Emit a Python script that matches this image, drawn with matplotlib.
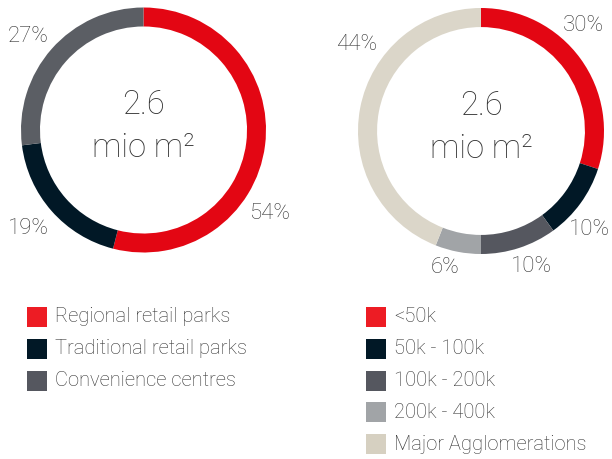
import matplotlib
matplotlib.use('Agg')
from matplotlib import pyplot as plt
from matplotlib.patches import Rectangle

# Data
left_labels = ['Regional retail parks', 'Traditional retail parks', 'Convenience centres']
left_values = [54, 19, 27]
right_labels = ['<50k', '50k - 100k', '100k - 200k', '200k - 400k', 'Major Agglomerations']
right_values = [30, 10, 10, 6, 44]
center_text = ['2.6', 'mio m\u00b2']

left_colours = ['#E30613', '#011826', '#5B5E64']
right_colours = ['#E30613', '#011826', '#55575F', '#A1A4A7', '#DBD6C9']
legend_left_colours = ['#ED1C24', '#011826', '#55575F']
legend_right_colours = ['#ED1C24', '#011826', '#55575F', '#A1A4A7', '#D6D0C1']

text_colour = '#333333'
font = ['Roboto', 'DejaVu Sans']
weight = 'light'

W, H = 612, 459


def donut(fig, cx, cy, r, values, colours, label_pos):
    ax = fig.add_axes([(cx - r) / W, (H - cy - r) / H, 2 * r / W, 2 * r / H])
    ax.pie(values, colors=colours, startangle=90, counterclock=False, radius=1,
           wedgeprops=dict(width=0.155, linewidth=0))
    ax.set_xlim(-1, 1)
    ax.set_ylim(-1, 1)
    ax.set_aspect('equal')
    ax.axis('off')
    for v, (x, y) in zip(values, label_pos):
        ax.text(x, y, f'{v}%', ha='center', va='center', fontsize=16,
                color=text_colour, family=font, weight=weight, clip_on=False)
    ax.text(0, 0.2, center_text[0], ha='center', va='center', fontsize=23.5,
            color=text_colour, family=font, weight=weight)
    ax.text(0, -0.15, center_text[1], ha='center', va='center', fontsize=23.5,
            color=text_colour, family=font, weight=weight)


def legend(fig, x, y0, labels, colours, step=31.8):
    for i, (lab, c) in enumerate(zip(labels, colours)):
        y = y0 + i * step
        fig.patches.append(Rectangle((x / W, (H - y - 10) / H), 20 / W, 20 / H,
                                     transform=fig.transFigure, color=c, lw=0))
        fig.text((x + 28) / W, (H - y) / H, lab, ha='left', va='center',
                 fontsize=14.5, color=text_colour, family=font, weight=weight)


fig = plt.figure(figsize=(W / 100, H / 100), dpi=100)
fig.patch.set_facecolor('white')

donut(fig, 143.5, 130, 122.5, left_values, left_colours,
      [(1.03, -0.68), (-0.94, -0.80), (-0.94, 0.76)])
donut(fig, 481, 131, 123, right_values, right_colours,
      [(0.83, 0.86), (0.88, -0.80), (0.41, -1.10), (-0.29, -1.11), (-1.01, 0.70)])

legend(fig, 27, 317, left_labels, legend_left_colours)
legend(fig, 366, 317, right_labels, legend_right_colours)

fig.savefig('out.png', dpi=100, facecolor='white')
